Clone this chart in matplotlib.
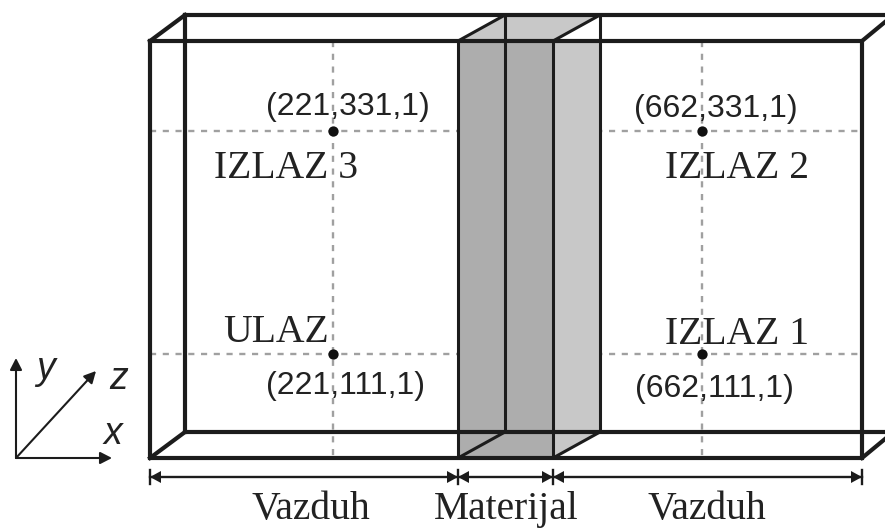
import matplotlib
matplotlib.use("Agg")
import matplotlib.pyplot as plt
from matplotlib.patches import Polygon

# Schematic geometry (pixel-like data coordinates)
front_x = [150, 862]
front_y = [41, 458]
back_y = [15, 432]
back_left_x = 185
material_depth = 47
right_edge_end = (885, -19)
canvas_right = 885
material_x = [458, 553]
interfaces_x = [150, 458, 553, 862]
probe_x = [333, 702]
probe_y = [131, 354]
dim_y = 477
probe_labels = [
    ("(221,331,1)", 348, 107), ("(662,331,1)", 716, 109),
    ("(221,111,1)", 346, 386), ("(662,111,1)", 714, 389),
]
port_labels = [
    ("IZLAZ 3", 286, 169), ("IZLAZ 2", 737, 169),
    ("ULAZ", 276, 333), ("IZLAZ 1", 737, 335),
]
region_labels = [("Vazduh", 311, 519), ("Materijal", 506, 519), ("Vazduh", 707, 519)]
axis_origin = (16, 458)
axis_tips = {"y": (16, 358), "z": (96, 371), "x": (112, 458)}
axis_text = {"y": (46, 369), "z": (119, 379), "x": (113, 434)}

DARK = "#1c1c1c"
GREY_D = "#adadad"
GREY_L = "#c8c8c8"
DASH = "#a0a0a0"

fig = plt.figure(figsize=(8.85, 5.28), dpi=100)
ax = fig.add_axes([0, 0, 1, 1])
ax.set_xlim(0, 885)
ax.set_ylim(528, 0)
ax.axis("off")

x0, x1 = front_x
y0, y1 = front_y
by0, by1 = back_y
m0, m1 = material_x
md = material_depth

# dashed guides
for y in probe_y:
    ax.plot([x0, x1], [y, y], color=DASH, lw=1.7, dashes=(2.6, 2.8), zorder=1)
for x in probe_x:
    ax.plot([x, x], [y0, y1], color=DASH, lw=1.7, dashes=(2.6, 2.8), zorder=1)

# material faces
ax.add_patch(Polygon([(m0, y0), (m1, y0), (m1, y1), (m0, y1)], fc=GREY_D, ec="none", zorder=2))
ax.add_patch(Polygon([(m1, y0), (m1 + md, y0), (m1 + md, by1), (m1, y1)], fc=GREY_L, ec="none", zorder=2))
ax.add_patch(Polygon([(m0, y0), (m0 + md, by0), (m1 + md, by0), (m1, y0)], fc=GREY_L, ec="none", zorder=2))

# material edges
mlw = 2.2
for xs, ys in [
    ([m0, m0], [y0, y1]),
    ([m1, m1], [y0, y1]),
    ([m0 + md, m0 + md], [by0, by1]),
    ([m1 + md, m1 + md], [by0, by1]),
    ([m0, m0 + md], [y0, by0]),
    ([m1, m1 + md], [y0, by0]),
    ([m0, m0 + md], [y1, by1]),
    ([m1, m1 + md], [y1, by1]),
]:
    ax.plot(xs, ys, color=DARK, lw=mlw, zorder=3, solid_capstyle="round")

# box
blw = 3.0
r = canvas_right + 20
ex, ey = right_edge_end
segs = [
    ([x0, x1, x1, x0, x0], [y0, y0, y1, y1, y0]),
    ([back_left_x, r], [by0, by0]),
    ([back_left_x, r], [by1, by1]),
    ([back_left_x, back_left_x], [by0, by1]),
    ([x0, back_left_x], [y0, by0]),
    ([x0, back_left_x], [y1, by1]),
    ([x1, ex], [y0, y0 + ey]),
    ([x1, ex], [y1, y1 + ey]),
]
for xs, ys in segs:
    ax.plot(xs, ys, color=DARK, lw=blw, zorder=4, solid_joinstyle="miter", solid_capstyle="projecting")

# probes
ax.scatter([probe_x[i] for i in (0, 1, 0, 1)], [probe_y[j] for j in (0, 0, 1, 1)],
           s=55, color="#111111", zorder=5, linewidths=0)

# dimension line
ax.plot([interfaces_x[0], interfaces_x[-1]], [dim_y, dim_y], color=DARK, lw=1.7, zorder=3)
for i, x in enumerate(interfaces_x):
    ax.plot([x, x], [dim_y - 7, dim_y + 7], color=DARK, lw=1.7, zorder=3)
    if i > 0:
        ax.add_patch(Polygon([(x, dim_y), (x - 11, dim_y - 6), (x - 11, dim_y + 6)], fc=DARK, ec="none", zorder=3))
    if i < len(interfaces_x) - 1:
        ax.add_patch(Polygon([(x, dim_y), (x + 11, dim_y - 6), (x + 11, dim_y + 6)], fc=DARK, ec="none", zorder=3))

# text
for s, x, y in probe_labels:
    ax.text(x, y, s, family="Liberation Sans", fontsize=23, color="#222222", ha="center", va="center", zorder=6)
for s, x, y in port_labels:
    ax.text(x, y, s, family="Liberation Serif", fontsize=28.5, color="#222222", ha="center", va="center", zorder=6)
for s, x, y in region_labels:
    ax.text(x, y, s, family="Liberation Serif", fontsize=28.5, color="#222222", ha="center", va="baseline", zorder=6)

# coordinate axes
for k, tip in axis_tips.items():
    ax.annotate("", xy=tip, xytext=axis_origin,
                arrowprops=dict(arrowstyle="-|>,head_length=0.35,head_width=0.18", color=DARK, lw=1.5,
                                shrinkA=0, shrinkB=0, mutation_scale=20))
    ax.text(*axis_text[k], k, family="Liberation Sans", style="italic", fontsize=27,
            color="#222222", ha="center", va="center")

fig.savefig("out.png", dpi=100)
